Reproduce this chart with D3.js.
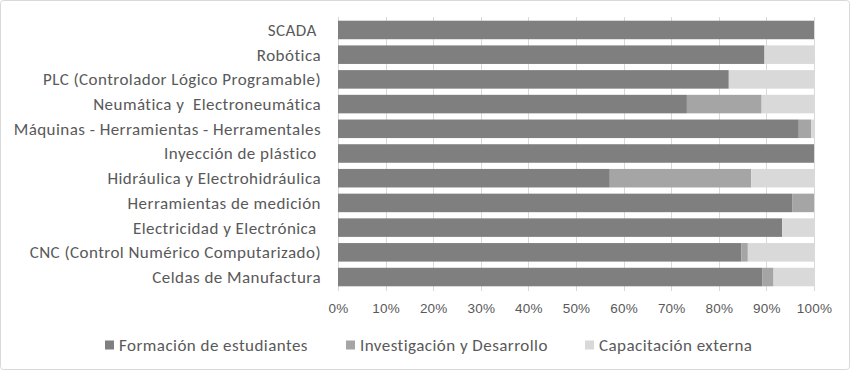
<!DOCTYPE html>
<html>
<head>
<meta charset="utf-8">
<script src="https://cdn.jsdelivr.net/npm/d3@7"></script>
<style>
  html, body { margin: 0; padding: 0; background: #fff; }
  svg { display: block; font-family: Carlito, Calibri, "Open Sans", sans-serif; }
</style>
</head>
<body>
<div id="chart"></div>
<script>
// --- datos del gráfico ---
const categorias = [
  "SCADA ",
  "Robótica",
  "PLC (Controlador Lógico Programable)",
  "Neumática y  Electroneumática",
  "Máquinas - Herramientas - Herramentales",
  "Inyección de plástico ",
  "Hidráulica y Electrohidráulica",
  "Herramientas de medición",
  "Electricidad y Electrónica ",
  "CNC (Control Numérico Computarizado)",
  "Celdas de Manufactura"
];
const series = ["Formación de estudiantes", "Investigación y Desarrollo", "Capacitación externa"];
const formacion     = [100, 89.6, 82.1, 73.3, 96.8, 100, 57.1, 95.4, 93.3, 84.7, 89.1];
const investigacion = [0,   0,    0,    15.7, 2.6,  0,   29.7, 4.6,  0,    1.4,  2.4];
const capacitacion  = [0,   10.4, 17.9, 11.0, 0.6,  0,   13.2, 0,    6.7,  13.9, 8.5];
const ticks = [0, 0.1, 0.2, 0.3, 0.4, 0.5, 0.6, 0.7, 0.8, 0.9, 1];
const colores = ["#7f7f7f", "#a5a5a5", "#d9d9d9"];

const W = 850, H = 370;
const margin = { top: 17, right: 36, bottom: 80, left: 338 };

const filas = categorias.map((c, i) => ({
  cat: c,
  f: formacion[i], inv: investigacion[i], cap: capacitacion[i]
}));
// normalizar a 100% por fila
filas.forEach(d => {
  const t = d.f + d.inv + d.cap;
  d.f /= t; d.inv /= t; d.cap /= t;
});

const stack = d3.stack().keys(["f", "inv", "cap"]);
const capas = stack(filas);

const svg = d3.select("#chart").append("svg")
  .attr("width", W).attr("height", H);

// marco exterior
svg.append("rect")
  .attr("x", 0.5).attr("y", 0.5)
  .attr("width", W - 1).attr("height", H - 1)
  .attr("rx", 3)
  .attr("fill", "#fff").attr("stroke", "#d9d9d9");

const x = d3.scaleLinear().domain([0, 1]).range([margin.left, W - margin.right]);
const y = d3.scaleBand().domain(categorias)
  .range([margin.top, 290]).paddingInner(0.25).paddingOuter(0.15);

// líneas de la cuadrícula
svg.append("g").selectAll("line")
  .data(ticks).join("line")
  .attr("x1", d => Math.round(x(d)) + 0.5).attr("x2", d => Math.round(x(d)) + 0.5)
  .attr("y1", margin.top).attr("y2", y.range()[1] + 1)
  .attr("stroke", "#d9d9d9").attr("stroke-width", 1);

// barras apiladas
svg.append("g").selectAll("g")
  .data(capas).join("g")
  .attr("fill", (d, i) => colores[i])
  .selectAll("rect")
  .data(d => d).join("rect")
  .attr("x", d => x(d[0]))
  .attr("width", d => x(d[1]) - x(d[0]))
  .attr("y", d => y(d.data.cat))
  .attr("height", y.bandwidth());

// eje x
const ejeX = svg.append("g")
  .attr("transform", `translate(0,${y.range()[1] + 1})`)
  .call(d3.axisBottom(x).tickValues(ticks).tickFormat(d3.format(".0%")).tickSize(0).tickPadding(12));
ejeX.select(".domain").remove();
ejeX.selectAll("text").attr("fill", "#595959").style("font-size", "13.5px")
  .style("letter-spacing", "0.2px");

// etiquetas de categorías
svg.append("g").selectAll("text")
  .data(categorias).join("text")
  .attr("x", margin.left - 17)
  .attr("y", d => y(d) + y.bandwidth() / 2)
  .attr("dy", "0.35em")
  .attr("text-anchor", "end")
  .attr("fill", "#595959")
  .style("font-size", "17px")
  .style("letter-spacing", "0.45px")
  .style("white-space", "pre")
  .text(d => d);

// leyenda
const leyX = [105, 346, 585];
const ley = svg.append("g").selectAll("g")
  .data(series).join("g")
  .attr("transform", (d, i) => `translate(${leyX[i]},345)`);
ley.append("rect")
  .attr("x", 0).attr("y", -4.5).attr("width", 9).attr("height", 9)
  .attr("fill", (d, i) => colores[i]);
ley.append("text")
  .attr("x", 14).attr("dy", "0.35em")
  .attr("fill", "#595959")
  .style("font-size", "17px")
  .style("letter-spacing", "0.45px")
  .text(d => d);
</script>
</body>
</html>
